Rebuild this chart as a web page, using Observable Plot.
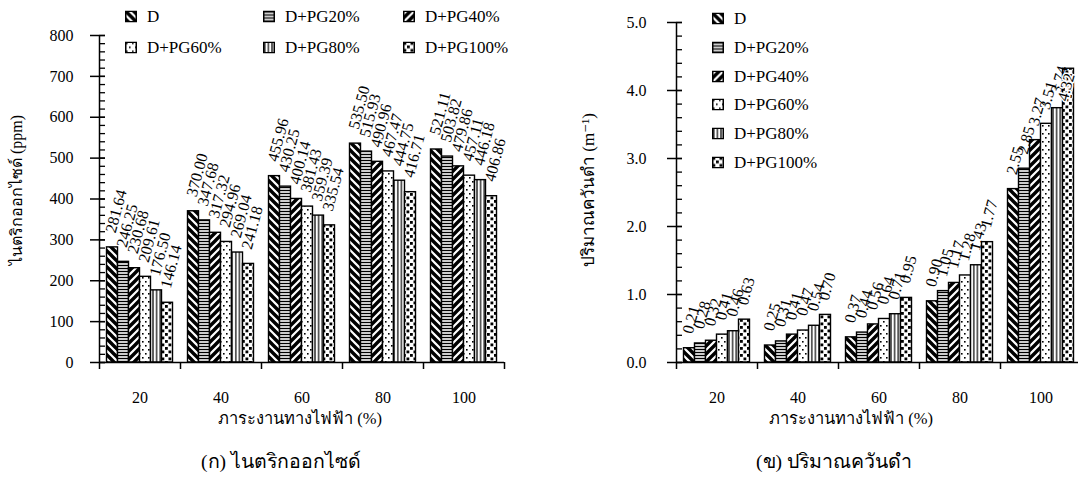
<!DOCTYPE html>
<html><head><meta charset="utf-8">
<script src="https://cdn.jsdelivr.net/npm/d3@7"></script>
<script src="https://cdn.jsdelivr.net/npm/@observablehq/plot@0.6"></script>
<style>
html,body{margin:0;padding:0;background:#fff;overflow:hidden;width:1078px;height:486px;}
#root{position:relative;width:1078px;height:486px;overflow:hidden;font-family:'Liberation Serif','Times New Roman','DejaVu Serif',serif;color:#000;}
.panel{position:absolute;top:0;}
.panel text{font-family:'Liberation Serif','Times New Roman','DejaVu Serif',serif;}
.txt{position:absolute;white-space:nowrap;line-height:1;transform:translate(-50%,-50%);}
.rot{transform:translate(-50%,-50%) rotate(-90deg);}
.leg{position:absolute;display:flex;align-items:center;font-size:17px;white-space:nowrap;line-height:1;transform:translateY(-50%);}
.leg svg{margin-right:10px;display:block;}
</style></head><body>
<svg width="0" height="0" style="position:absolute;left:0;top:0"><defs>
<pattern id="pat0" patternUnits="userSpaceOnUse" width="8" height="8"><rect width="8" height="8" fill="#fff"/><path d="M-2,-2L10,10M-2,6L2,10M6,-2L10,2" stroke="#000" stroke-width="3.4"/></pattern>
<pattern id="pat1" patternUnits="userSpaceOnUse" width="4" height="3"><rect width="4" height="3" fill="#fff"/><path d="M0,1.5H4" stroke="#000" stroke-width="1.4"/></pattern>
<pattern id="pat2" patternUnits="userSpaceOnUse" width="8" height="8"><rect width="8" height="8" fill="#fff"/><path d="M-2,10L10,-2M-2,2L2,-2M6,10L10,6" stroke="#000" stroke-width="3.4"/></pattern>
<pattern id="pat3" patternUnits="userSpaceOnUse" width="6" height="8"><rect width="6" height="8" fill="#fff"/><rect x="1" y="1" width="1.6" height="1.6" fill="#000"/><rect x="4" y="5" width="1.6" height="1.6" fill="#000"/></pattern>
<pattern id="pat4" patternUnits="userSpaceOnUse" width="3.6" height="4"><rect width="3.6" height="4" fill="#fff"/><path d="M1.8,0V4" stroke="#000" stroke-width="1.2"/></pattern>
<pattern id="pat5" patternUnits="userSpaceOnUse" width="7" height="7"><rect width="7" height="7" fill="#fff"/><rect x="0.5" y="0.5" width="2.8" height="2.8" fill="#000"/><rect x="4" y="4" width="2.8" height="2.8" fill="#000"/></pattern>
</defs></svg>
<div id="root"></div>
<script>
// ---- data ----
const loads = ["20", "40", "60", "80", "100"];
const series = ["D", "D+PG20%", "D+PG40%", "D+PG60%", "D+PG80%", "D+PG100%"];

// Nitric oxide (ppm)
const noxD     = [281.64, 370.00, 455.96, 535.50, 521.11];
const noxPG20  = [246.25, 347.68, 430.25, 515.93, 503.82];
const noxPG40  = [230.68, 317.32, 400.14, 490.96, 479.86];
const noxPG60  = [209.61, 294.96, 381.43, 467.47, 457.11];
const noxPG80  = [176.50, 269.04, 359.39, 444.75, 446.18];
const noxPG100 = [146.14, 241.18, 335.54, 416.71, 406.86];

// Black smoke (m^-1)
const smokeD     = [0.21, 0.25, 0.37, 0.90, 2.55];
const smokePG20  = [0.28, 0.31, 0.44, 1.05, 2.85];
const smokePG40  = [0.32, 0.41, 0.56, 1.17, 3.27];
const smokePG60  = [0.41, 0.47, 0.64, 1.28, 3.51];
const smokePG80  = [0.46, 0.54, 0.71, 1.43, 3.74];
const smokePG100 = [0.63, 0.70, 0.95, 1.77, 4.32];

const noxTicks = [0, 100, 200, 300, 400, 500, 600, 700, 800];
const noxMinor = d3.range(0, 801, 20);
const smokeTicks = [0, 1, 2, 3, 4, 5];
const smokeMinor = d3.range(0, 26).map(i => i / 5);

const xTitle = "ภาระงานทางไฟฟ้า (%)";
const noxTitle = "ไนตริกออกไซด์ (ppm)";
const smokeTitle = "ปริมาณควันดำ (m⁻¹)";
const noxCaption = "(ก) ไนตริกออกไซด์";
const smokeCaption = "(ข) ปริมาณควันดำ";

const FONT = "Liberation Serif, Times New Roman, DejaVu Serif, serif";

function chart(o) {
  const H = 432, MB = 70;
  const step = (o.width - o.ml - o.mr) / loads.length;
  const pxPerUnit = (H - MB - o.mt) / o.yMax;
  const pad = 7.5, bw = 11, gap = 15, room = 54;
  const marks = [];
  o.values.forEach((vals, i) => {
    const d = loads.map((c, j) => ({load: c, value: vals[j]}));
    marks.push(Plot.barY(d, {x: "load", y: "value", fill: `url(#pat${i})`, stroke: "#000", strokeWidth: 1.4,
      insetLeft: pad + i * bw, insetRight: step - pad - (i + 1) * bw}));
  });
  o.values.forEach((vals, i) => {
    const d = loads.map((c, j) => ({load: c, value: vals[j]}));
    // labels that fit above the bar sit outside its end; those that would leave the plot are pulled inside
    const fits = r => (o.yMax - r.value) * pxPerUnit >= room;
    const common = {x: "load", y: "value", text: r => r.value.toFixed(2), rotate: -75,
      textAnchor: "start", lineAnchor: "middle", dx: -step / 2 + pad + bw * (i + 0.5) - 2, fontSize: 16};
    marks.push(Plot.text(d.filter(fits), {...common, dy: -gap}));
    marks.push(Plot.text(d.filter(r => !fits(r)), {...common, dx: common.dx - 4, dy: 32, stroke: "#fff", strokeWidth: 3, fill: "#000"}));
  });
  marks.push(Plot.ruleY([0], {strokeWidth: 1.5}));
  marks.push(Plot.ruleX([loads[0]], {x: d => d, dx: -step / 2, insetBottom: -7, strokeWidth: 1.5}));
  marks.push(Plot.ruleX(loads.slice(1), {x: d => d, y1: 0, y2: 0, insetBottom: -7, dx: -step / 2, strokeWidth: 1.5}));
  marks.push(Plot.ruleX(loads.slice(-1), {x: d => d, y1: 0, y2: 0, insetBottom: -7, dx: step / 2, strokeWidth: 1.5}));
  marks.push(Plot.axisY({ticks: o.minor, tickSize: 6, dx: 6, fill: "none", tickFormat: () => "", label: null, strokeWidth: 1.3}));
  marks.push(Plot.axisY({ticks: o.major, tickSize: 15, dx: 6, tickPadding: o.tp, tickFormat: o.tickFmt, fontSize: 16, label: null, strokeWidth: 1.5}));
  marks.push(Plot.axisX({tickSize: 0, tickPadding: 29, fontSize: 16, label: null}));
  return Plot.plot({
    width: o.width, height: H, marginTop: o.mt, marginBottom: MB, marginLeft: o.ml, marginRight: o.mr,
    x: {domain: loads, padding: 0},
    y: {domain: [0, o.yMax]},
    style: {fontFamily: FONT, fontSize: "16px", background: "transparent", overflow: "visible", color: "#000"},
    marks
  });
}

const root = document.getElementById("root");

function place(el, left) {
  el.classList.add("panel");
  el.style.left = left + "px";
  root.appendChild(el);
}

place(chart({values: [noxD, noxPG20, noxPG40, noxPG60, noxPG80, noxPG100], yMax: 800, major: noxTicks, minor: noxMinor,
  tickFmt: d => String(d), tp: 17, width: 540, ml: 99, mr: 36, mt: 35}), 0);
place(chart({values: [smokeD, smokePG20, smokePG40, smokePG60, smokePG80, smokePG100], yMax: 5, major: smokeTicks, minor: smokeMinor,
  tickFmt: d => d.toFixed(1), tp: 21, width: 541, ml: 136, mr: 0, mt: 22}), 540);

function text(str, x, y, size, cls) {
  const d = document.createElement("div");
  d.className = "txt" + (cls ? " " + cls : "");
  d.textContent = str;
  d.style.left = x + "px"; d.style.top = y + "px"; d.style.fontSize = size + "px";
  root.appendChild(d);
}
text(xTitle, 300, 419, 16.5);
text(xTitle, 851, 419, 16.5);
text(noxTitle, 17, 190, 16, "rot");
text(smokeTitle, 588, 190, 17, "rot");
text(noxCaption, 281, 462, 19.5);
text(smokeCaption, 834, 462, 19.5);

function legendItem(i, x, y) {
  const d = document.createElement("div");
  d.className = "leg";
  d.style.left = x + "px"; d.style.top = y + "px";
  d.innerHTML = `<svg width="12" height="12"><rect x="0.75" y="0.75" width="10.5" height="10.5" fill="url(#pat${i})" stroke="#000" stroke-width="1.5"/></svg>`;
  d.appendChild(document.createTextNode(series[i]));
  root.appendChild(d);
}
const lcols = [125, 263, 403], lrows = [16, 47];
series.forEach((s, i) => legendItem(i, lcols[i % 3], lrows[Math.floor(i / 3)]));
const rrows = [18, 47, 76, 104, 133, 162];
series.forEach((s, i) => legendItem(i, 712, rrows[i]));
</script>
</body></html>
